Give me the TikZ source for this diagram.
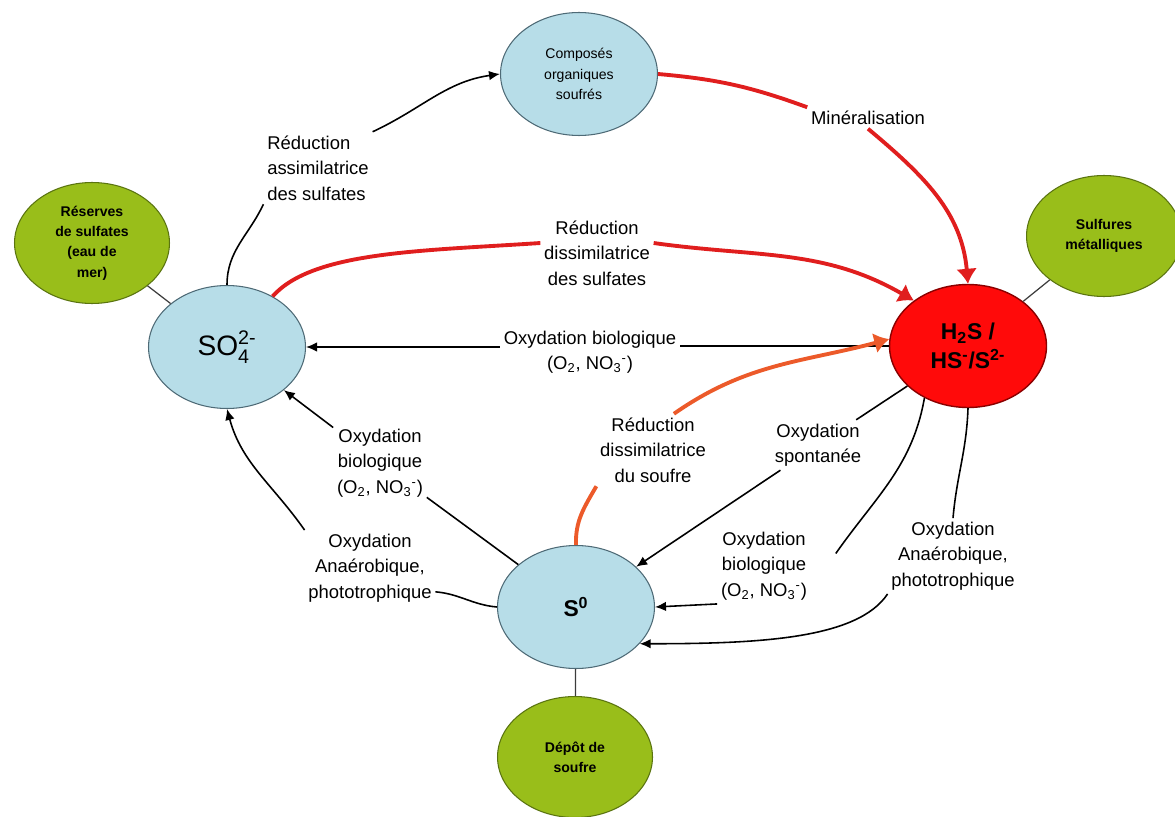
\documentclass[tikz,border=0pt]{standalone}
\usepackage{amsmath}
\usepackage{fontspec}
\setmainfont{Liberation Sans}
\usepackage{tikz}
\usetikzlibrary{shapes.geometric}
\usetikzlibrary{arrows.meta}

\definecolor{bleu}{HTML}{B7DDE8}
\definecolor{bordbleu}{HTML}{4E6A76}
\definecolor{vert}{HTML}{99BE1A}
\definecolor{bordvert}{HTML}{5A7410}
\definecolor{rougeh}{HTML}{FF0A0A}
\definecolor{bordrouge}{HTML}{8A0000}
\definecolor{rouge}{HTML}{E01E1E}
\definecolor{orange}{HTML}{EC5A2A}
\definecolor{gris}{HTML}{3C3C3C}

\begin{document}
\begin{tikzpicture}[
    x=0.02cm, y=0.02cm, % one unit is one pixel of the reference
    every node/.style={align=center}, % centred text in every node
    espece/.style={ellipse, draw=bordbleu, fill=bleu, inner sep=0pt, line width=0.6pt,
        minimum width=3.14cm, minimum height=2.46cm}, % sulphur species
    reserve/.style={ellipse, draw=bordvert, fill=vert, inner sep=0pt, line width=0.6pt,
        minimum width=3.1cm, minimum height=2.42cm,
        font=\bfseries\fontsize{8}{11.3}\selectfont}, % reservoirs
    etiquette/.style={inner sep=2pt, font=\fontsize{10.5}{14.5}\selectfont}, % process names
    lien/.style={line width=0.9pt}, % black connector, no tip
    fleche/.style={lien, -{Latex[length=2.2mm,width=1.9mm]}}, % black connector with tip
    lienrouge/.style={draw=rouge, line width=2.2pt}, % red connector, no tip
    flecherouge/.style={lienrouge, -{Latex[length=3mm,width=4.2mm]}}, % red connector with tip
    lienorange/.style={draw=orange, line width=2.2pt},
    flecheorange/.style={lienorange, -{Latex[length=3mm,width=4.2mm]}},
    trait/.style={draw=gris, line width=0.7pt} % plain link to a reservoir
]
\useasboundingbox (0,0) rectangle (1175,816);

% species and reservoirs
\node[espece, font=\fontsize{8}{11.5}\selectfont] (comp) at (579,742) {Composés\\organiques\\soufrés};
\node[reserve, font=\bfseries\fontsize{8}{11.5}\selectfont] (res) at (92,573) {Réserves\\de sulfates\\(eau de\\mer)};
\node[espece, font=\fontsize{16}{18}\selectfont] (so4) at (227,469) {SO$_{\text{4}}^{\text{2-}}$};
\node[ellipse, draw=bordrouge, fill=rougeh, inner sep=0pt, line width=0.8pt,
    minimum width=3.14cm, minimum height=2.46cm,
    font=\bfseries\fontsize{13}{16}\selectfont] (h2s) at (968,470) {H$_{\text{2}}$S /\\HS$^{\text{-}}$/S$^{\text{2-}}$};
\node[reserve] (sulf) at (1104,580) {Sulfures\\métalliques};
\node[espece, font=\bfseries\fontsize{13}{15}\selectfont] (s0) at (576,209) {S$^{\text{0}}$};
\node[reserve] (depot) at (575,59) {Dépôt de\\soufre};

% process names
\node[etiquette, align=left] (lblAssim) at (318,648) {Réduction\\assimilatrice\\des sulfates};
\node[etiquette] (lblMin) at (868,698) {Minéralisation};
\node[etiquette] (lblDissSulf) at (597,563) {Réduction\\dissimilatrice\\des sulfates};
\node[etiquette] (lblOxBio) at (590,464) {Oxydation biologique\\(O\textsubscript{2}, NO\textsubscript{3}\textsuperscript{-})};
\node[etiquette] (lblOxBioL) at (380,353) {Oxydation\\biologique\\(O\textsubscript{2}, NO\textsubscript{3}\textsuperscript{-})};
\node[etiquette] (lblDissS) at (653,366) {Réduction\\dissimilatrice\\du soufre};
\node[etiquette] (lblSpont) at (818,371) {Oxydation\\spontanée};
\node[etiquette] (lblAnaL) at (370,248) {Oxydation\\Anaérobique,\\phototrophique};
\node[etiquette] (lblOxBioR) at (764,250) {Oxydation\\biologique\\(O\textsubscript{2}, NO\textsubscript{3}\textsuperscript{-})};
\node[etiquette] (lblAnaR) at (953,260) {Oxydation\\Anaérobique,\\phototrophique};

% links to reservoirs
\draw[trait] (res) -- (so4);
\draw[trait] (sulf) -- (h2s);
\draw[trait] (s0) -- (depot);

% SO4 -> organic compounds
\draw[lien] (so4.north) to[out=90, in=245] (lblAssim.south west);
\draw[fleche] (lblAssim.north east) to[out=25, in=188] (comp.west);

% organic compounds -> H2S
\draw[lienrouge] (comp.east) to[out=-5, in=160] (lblMin.north west);
\draw[flecherouge] (lblMin.south) to[out=-40, in=95] (h2s.north);

% SO4 -> H2S
\draw[lienrouge] (so4.48) .. controls +(40,45) and +(-120,-8) .. (lblDissSulf.170);
\draw[flecherouge] (lblDissSulf.10) to[out=-8, in=150] (h2s.140);

% H2S -> SO4
\draw[lien] (h2s.west) -- (lblOxBio.east |- h2s.west);
\draw[fleche] (lblOxBio.west |- so4.east) -- (so4.east);

% S0 -> H2S
\draw[lienorange] (s0.north) to[out=92, in=240] (lblDissS.south west);
\draw[flecheorange] (lblDissS.60) to[out=35, in=195] (h2s.175);

% S0 -> SO4
\draw[lien] (s0) -- (lblOxBioL);
\draw[fleche] (lblOxBioL) -- (so4);
\draw[lien] (s0.west) to[out=175, in=-5] (lblAnaL.-20);
\draw[fleche] (lblAnaL.north west) to[out=125, in=-75] (so4.south);

% H2S -> S0
\draw[lien] (h2s) -- (lblSpont);
\draw[fleche] (lblSpont) -- (s0);
\draw[lien] (h2s.230) to[out=-100, in=55] ([xshift=0.5cm]lblOxBioR.15);
\draw[fleche] (lblOxBioR.south west) -- (s0.east);
\draw[lien] (h2s.south) to[out=-92, in=85] (lblAnaR.north);
\draw[fleche] (lblAnaR.south west) .. controls +(-30,-45) and +(120,0) .. (s0.-30);
\end{tikzpicture}
\end{document}
